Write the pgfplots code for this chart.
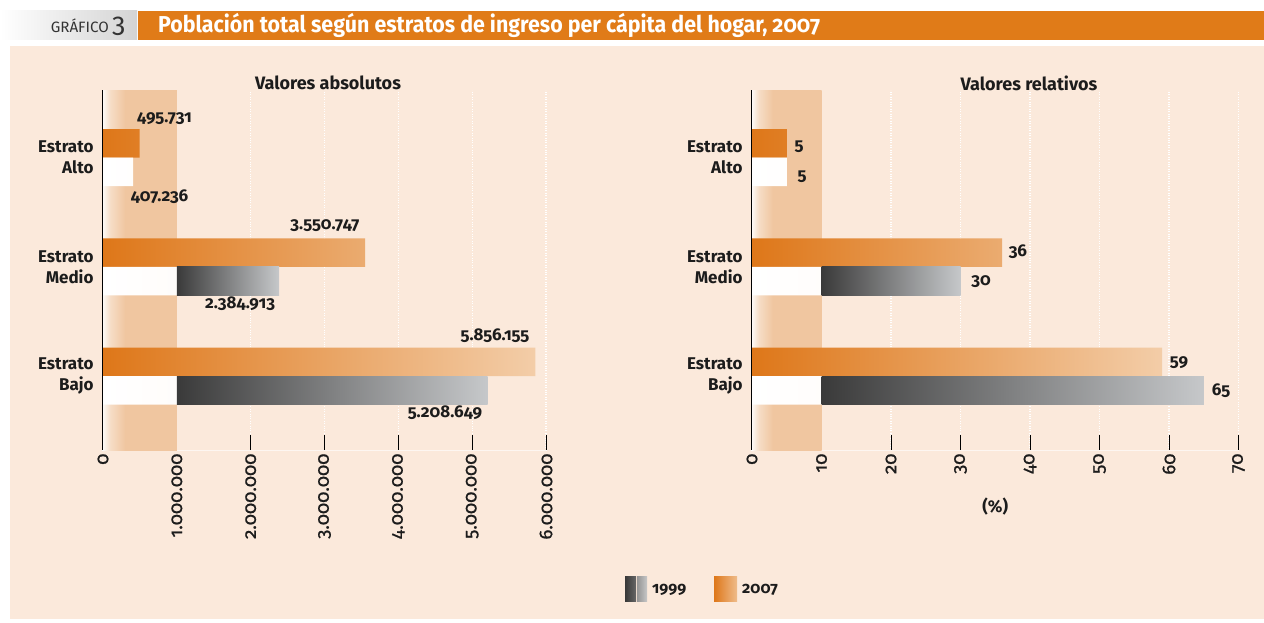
\documentclass[border=0pt]{standalone}
\usepackage{fontspec}
\setmainfont{Fira Sans}[Numbers=OldStyle]
\newfontfamily\tickf{Fira Sans}[Numbers=OldStyle, FakeBold=0.8]
\usepackage{graphicx}
\usepackage{pgfplots}
\pgfplotsset{compat=1.18}

\definecolor{bgpeach}{HTML}{FBE9DB}
\definecolor{bandpeach}{HTML}{F0C6A0}
\definecolor{orL}{HTML}{DE7719}
\definecolor{orR}{HTML}{F3CDA8}
\definecolor{grL}{HTML}{3A3A3A}
\definecolor{grR}{HTML}{C6C8CA}
\definecolor{whR}{HTML}{FCF0E6}
\definecolor{titor}{HTML}{E07B18}
\definecolor{ink}{HTML}{1C1C1C}

\pgfdeclarehorizontalshading{bandsh}{100bp}{color(0bp)=(white); color(25bp)=(white!90!bandpeach); color(30bp)=(white!40!bandpeach); color(40bp)=(bandpeach); color(100bp)=(bandpeach)}

\tikzset{vlab/.style={font=\bfseries\fontsize{17}{17}\selectfont, text=ink, inner sep=0pt, anchor=center}}
\pgfplotsset{
  mybar/.style={
    scale only axis, anchor=south west,
    height=360pt, ymin=-0.677, ymax=2.618,
    axis x line*=bottom, axis y line*=left,
    x axis line style={draw=white!60!bgpeach, line width=1pt},
    y axis line style={draw=black, line width=1.1pt},
    tick align=inside, major tick length=15pt,
    xtick style={draw=black, line width=0.9pt},
    ytick style={draw=none},
    ytick={0,1,2},
    yticklabels={{Estrato\\Bajo},{Estrato\\Medio},{Estrato\\Alto}},
    yticklabel style={align=right, font=\bfseries\fontsize{17}{21}\selectfont, text=ink, xshift=-6pt},
    xticklabel style={rotate=90, anchor=east, font=\tickf\fontsize{18.5}{18.5}\selectfont, text=ink},
    xmajorgrids, grid style={white, dotted, line width=1.2pt},
    bar width=28.5pt,
    clip=false,
  },
}

\begin{document}
\begin{tikzpicture}[x=1pt,y=1pt]
\useasboundingbox (0,0) rectangle (1264,-623);
\fill[white] (0,0) rectangle (1264,-623);
\fill[bgpeach] (10,-46) rectangle (1264,-619);
% header
\shade[left color=white, right color=black!17] (0,-11) rectangle (137,-40);
\fill[titor] (138,-11) rectangle (1264,-40);
\node[anchor=base east, inner sep=0pt, text=black!80] at (109,-33) {\resizebox{58pt}{\height}{\fontsize{15}{15}\selectfont GRÁFICO}};
\node[anchor=base west, inner sep=0pt, text=black!80] at (112,-33) {\fontsize{27}{27}\selectfont 3};
\node[anchor=base west, inner sep=0pt, text=white] at (158,-33) {\resizebox{662pt}{\height}{\bfseries\fontsize{23}{23}\selectfont Población total según estratos de ingreso per cápita del hogar, 2007}};
% panel titles
\node[inner sep=0pt, text=ink] at (328,-83) {\bfseries\fontsize{18}{18}\selectfont Valores absolutos};
\node[inner sep=0pt, text=ink] at (1029,-83) {\bfseries\fontsize{18}{18}\selectfont Valores relativos};

% left panel
\begin{axis}[mybar, at={(103pt,-450pt)}, width=443pt,
  xmin=0, xmax=6000000, scaled x ticks=false,
  xtick={0,1000000,2000000,3000000,4000000,5000000,6000000},
  xticklabels={0,1.000.000,2.000.000,3.000.000,4.000.000,5.000.000,6.000.000}]
\addplot[draw=none, shading=bandsh] coordinates {(0,-0.677) (1000000,-0.677) (1000000,2.618) (0,2.618)} --cycle;
% 2007
\addplot[xbar, bar shift=14.25pt, draw=none, left color=orL, right color=orR] coordinates {(495731,2) (3550747,1) (5856155,0)};
% 1999
\addplot[xbar, bar shift=-14.25pt, draw=none, left color=white, right color=whR] coordinates {(407236,2) (2384913,1) (5208649,0)};
\addplot[draw=none, left color=grL, right color=grR] coordinates {(1000000,0.739) (2384913,0.739) (2384913,1) (1000000,1)} --cycle;
\addplot[draw=none, left color=grL, right color=grR] coordinates {(1000000,-0.261) (5208649,-0.261) (5208649,0) (1000000,0)} --cycle;
\node[vlab] at (axis cs:833000,2.36) {495.731};
\node[vlab] at (axis cs:765000,1.645) {407.236};
\node[vlab] at (axis cs:3007000,1.375) {3.550.747};
\node[vlab] at (axis cs:1856000,0.66) {2.384.913};
\node[vlab] at (axis cs:5310000,0.37) {5.856.155};
\node[vlab] at (axis cs:4632000,-0.335) {5.208.649};
\end{axis}

% right panel
\begin{axis}[mybar, at={(752pt,-450pt)}, width=486.5pt,
  xmin=0, xmax=70,
  xtick={0,10,20,30,40,50,60,70},
  xticklabels={0,10,20,30,40,50,60,70},
  xlabel={(\%)},
  xlabel style={at={(axis description cs:0.5,0)}, anchor=center, yshift=-57pt, font=\bfseries\fontsize{17}{17}\selectfont, text=ink}]
\addplot[draw=none, shading=bandsh] coordinates {(0,-0.677) (10,-0.677) (10,2.618) (0,2.618)} --cycle;
% 2007
\addplot[xbar, bar shift=14.25pt, draw=none, left color=orL, right color=orR] coordinates {(5,2) (36,1) (59,0)};
% 1999
\addplot[xbar, bar shift=-14.25pt, draw=none, left color=white, right color=whR] coordinates {(5,2) (30,1) (65,0)};
\addplot[draw=none, left color=grL, right color=grR] coordinates {(10,0.739) (30,0.739) (30,1) (10,1)} --cycle;
\addplot[draw=none, left color=grL, right color=grR] coordinates {(10,-0.261) (65,-0.261) (65,0) (10,0)} --cycle;
\node[vlab] at (axis cs:6.76,2.096) {5};
\node[vlab] at (axis cs:7.19,1.822) {5};
\node[vlab] at (axis cs:38.27,1.135) {36};
\node[vlab] at (axis cs:32.95,0.860) {30};
\node[vlab] at (axis cs:61.44,0.119) {59};
\node[vlab] at (axis cs:67.48,-0.137) {65};
\end{axis}

% legend
\shade[left color=black!78, right color=black!60] (625,-576) rectangle (636,-601);
\shade[left color=black!42, right color=black!22] (637,-576) rectangle (647,-601);
\node[anchor=base west, inner sep=0pt, text=ink] at (652,-593) {\bfseries\fontsize{16}{16}\selectfont 1999};
\shade[left color=orL, right color=orR!80!orL] (714,-576) rectangle (737,-601);
\node[anchor=base west, inner sep=0pt, text=ink] at (742,-593) {\bfseries\fontsize{16}{16}\selectfont 2007};
\end{tikzpicture}
\end{document}
